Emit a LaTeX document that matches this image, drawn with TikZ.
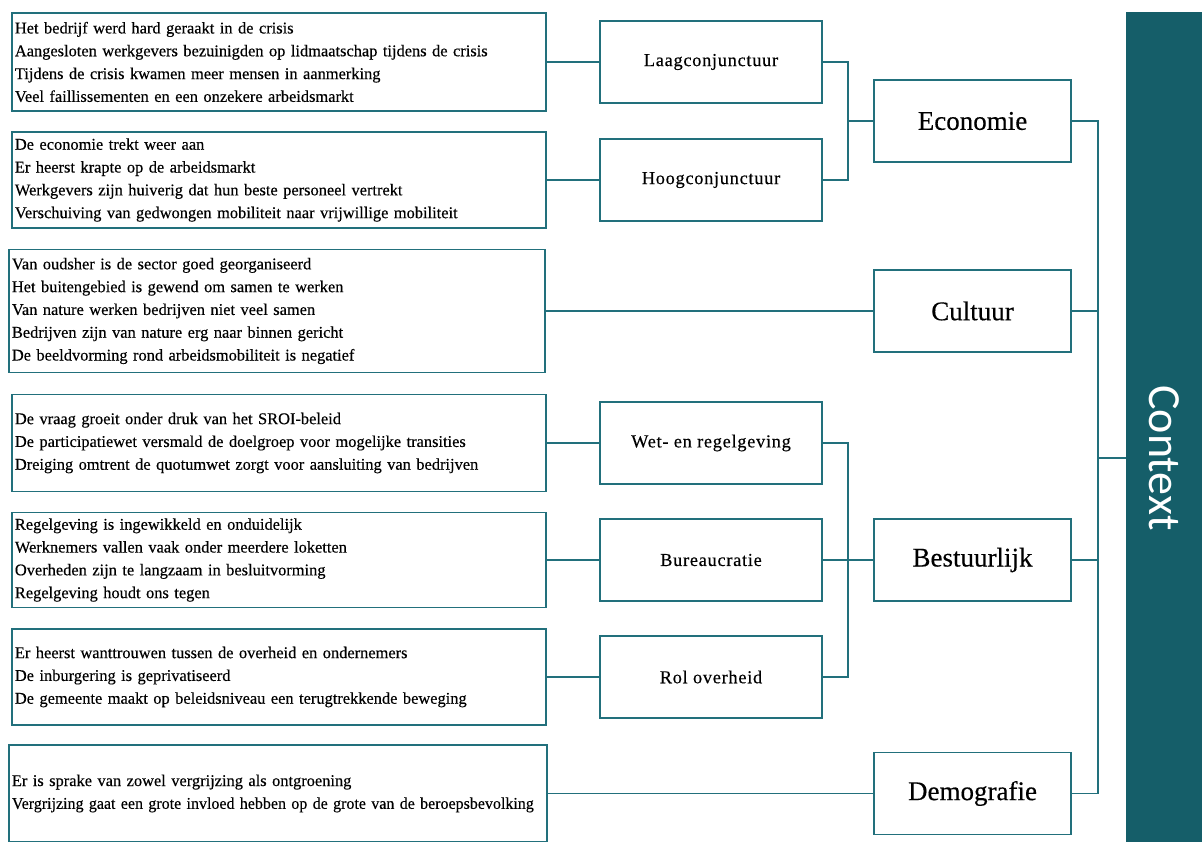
\documentclass[tikz,border=0pt]{standalone}
\usepackage{graphicx}
\usepackage{fontspec}
\setmainfont{Liberation Serif}
\newfontfamily\leaffont[FakeBold=0.35]{Liberation Serif}
\newfontfamily\ctxfont{Carlito}
\definecolor{lineteal}{HTML}{22707C}
\definecolor{barteal}{HTML}{155E69}
\begin{document}
\begin{tikzpicture}[x=1pt,y=-1pt,
  leaf/.style={draw=lineteal,line width=1.8pt,rectangle,inner sep=3pt,align=left,
    anchor=west,font=\leaffont\fontsize{16.4}{22.8}\selectfont},
  theme/.style={draw=lineteal,line width=1.8pt,minimum width=222pt,minimum height=82pt,
    font=\leaffont\fontsize{18.3}{22}\selectfont\addfontfeature{LetterSpace=4}},
  domainbox/.style={draw=lineteal,line width=1.8pt,minimum width=197pt,minimum height=82pt,
    font=\leaffont\fontsize{27}{30}\selectfont},
  link/.style={draw=lineteal,line width=1.4pt},
  trunk/.style={draw=lineteal,line width=2.8pt}]
\path[use as bounding box,clip] (0,0) rectangle (1202,841);

% statements
\node[leaf,text width=528pt,minimum height=98pt] (l1) at (11,62)
  {Het bedrijf werd hard geraakt in de crisis\\
   Aangesloten werkgevers bezuinigden op lidmaatschap tijdens de crisis\\
   Tijdens de crisis kwamen meer mensen in aanmerking\\
   Veel faillissementen en een onzekere arbeidsmarkt};
\node[leaf,text width=528pt,minimum height=96pt] (l2) at (11,180)
  {De economie trekt weer aan\\
   Er heerst krapte op de arbeidsmarkt\\
   Werkgevers zijn huiverig dat hun beste personeel vertrekt\\
   Verschuiving van gedwongen mobiliteit naar vrijwillige mobiliteit};
\node[leaf,text width=530pt,minimum height=123pt] (l3) at (8,311)
  {Van oudsher is de sector goed georganiseerd\\
   Het buitengebied is gewend om samen te werken\\
   Van nature werken bedrijven niet veel samen\\
   Bedrijven zijn van nature erg naar binnen gericht\\
   De beeldvorming rond arbeidsmobiliteit is negatief};
\node[leaf,text width=528pt,minimum height=97pt] (l4) at (11,443)
  {De vraag groeit onder druk van het SROI-beleid\\
   De participatiewet versmald de doelgroep voor mogelijke transities\\
   Dreiging omtrent de quotumwet zorgt voor aansluiting van bedrijven};
\node[leaf,text width=528pt,minimum height=95pt] (l5) at (11,560)
  {Regelgeving is ingewikkeld en onduidelijk\\
   Werknemers vallen vaak onder meerdere loketten\\
   Overheden zijn te langzaam in besluitvorming\\
   Regelgeving houdt ons tegen};
\node[leaf,text width=528pt,minimum height=96pt] (l6) at (11,677)
  {Er heerst wanttrouwen tussen de overheid en ondernemers\\
   De inburgering is geprivatiseerd\\
   De gemeente maakt op beleidsniveau een terugtrekkende beweging};
\node[leaf,text width=532pt,minimum height=97pt] (l7) at (8,793.5)
  {Er is sprake van zowel vergrijzing als ontgroening\\
   \scalebox{0.975}[1]{Vergrijzing gaat een grote invloed hebben op de grote van de beroepsbevolking}};

% themes
\node[theme] (laag) at (711,62) {Laagconjunctuur};
\node[theme] (hoog) at (711,180) {Hoogconjunctuur};
\node[theme] (wet) at (711,443) {Wet- en regelgeving};
\node[theme] (bureau) at (711,560) {Bureaucratie};
\node[theme] (rol) at (711,677) {Rol overheid};

% domains
\node[domainbox] (eco) at (972.5,121) {Economie};
\node[domainbox] (cult) at (972.5,311) {Cultuur};
\node[domainbox] (best) at (972.5,560) {Bestuurlijk};
\node[domainbox] (demo) at (972.5,793.5) {Demografie};

% context bar
\node[fill=barteal,minimum width=76pt,minimum height=835pt,inner sep=0pt,anchor=north west] (ctx) at (1126,12) {};
\node[rotate=-90,text=white,font=\ctxfont\fontsize{46}{50}\selectfont,inner sep=0pt] (ctxlabel) at (1164,458) {Context};

% junctions
\coordinate (jE) at (848,121);
\coordinate (jB) at (848,560);
\coordinate (jC) at (1098,458);

% connectors
\draw[link] (l1.east) -- (laag.west);
\draw[link] (l2.east) -- (hoog.west);
\draw[link] (l3.east) -- (cult.west);
\draw[link] (l4.east) -- (wet.west);
\draw[link] (l5.east) -- (bureau.west);
\draw[link] (l6.east) -- (rol.west);
\draw[link] (l7.east) -- (demo.west);

\draw[link] (laag.east) -| (jE) |- (hoog.east);
\draw[trunk] (jE) -- (eco.west);
\draw[link] (wet.east) -| (jB) |- (rol.east);
\draw[link] (bureau.east) -- (jB);
\draw[trunk] (jB) -- (best.west);

\draw[link] (eco.east) -| (jC) |- (demo.east);
\draw[link] (cult.east) -- (cult.east -| jC);
\draw[link] (best.east) -- (best.east -| jC);
\draw[trunk] (jC) -- (jC -| ctx.west);
\end{tikzpicture}
\end{document}
